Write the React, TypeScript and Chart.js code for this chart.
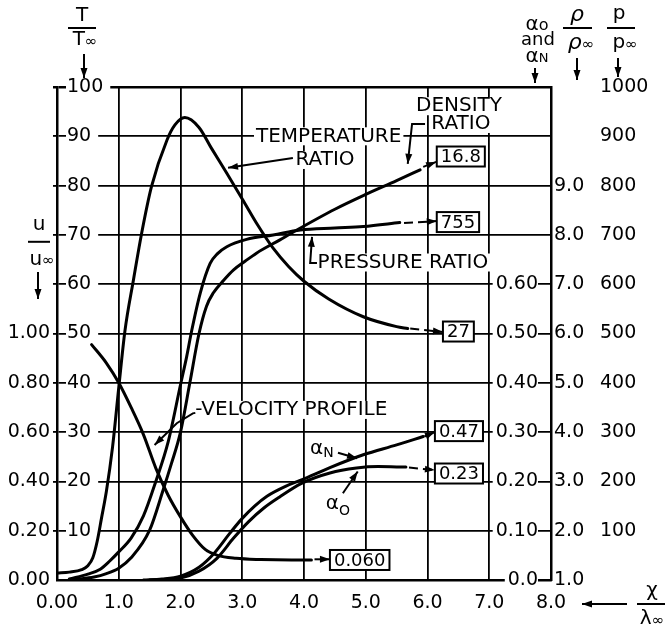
import React, { useEffect, useRef } from 'react';
import { Chart, registerables } from 'chart.js';

Chart.register(...registerables);

// ---------- data (x = χ/λ∞) ----------
const tempX = [0, 0.2, 0.4, 0.5, 0.58, 0.65, 0.72, 0.8, 0.9, 1.0, 1.1, 1.24, 1.37, 1.53, 1.78, 1.91, 2.07, 2.3, 2.5, 2.75, 3.0, 3.25, 3.5, 3.75, 4.0, 4.4, 4.96, 5.5, 5.68];
const temperatureRatio = [1.4, 1.6, 2.1, 2.9, 4.5, 7.8, 12.5, 18, 27, 39, 50.5, 61, 70.3, 79.8, 89.2, 92.3, 93.8, 91.8, 87.6, 82.5, 77.3, 72.0, 67.3, 63.6, 60.6, 57.0, 53.4, 51.4, 51.0];

const velX = [0.56, 0.8, 1.0, 1.2, 1.4, 1.6, 1.8, 2.0, 2.2, 2.4, 2.6, 2.9, 3.3, 3.8, 4.12];
const velocityProfile = [0.955, 0.88, 0.80, 0.70, 0.59, 0.454, 0.344, 0.256, 0.18, 0.124, 0.10, 0.088, 0.083, 0.081, 0.081];

const presX = [0.2, 0.5, 0.7, 0.85, 1.0, 1.2, 1.4, 1.6, 1.8, 2.0, 2.1, 2.18, 2.32, 2.48, 2.6, 2.75, 3.07, 3.5, 3.94, 4.5, 4.96, 5.55];
const pressureRatio = [2, 12, 22, 38, 57, 85, 130, 200, 280, 396, 453, 505, 582, 642, 662, 676, 691, 700, 710, 714, 717, 725];

const densX = [0.3, 0.6, 0.8, 1.0, 1.2, 1.5, 1.72, 1.85, 2.0, 2.15, 2.3, 2.42, 2.53, 2.7, 2.86, 3.05, 3.23, 3.61, 3.83, 4.5, 5.0, 5.5, 5.88];
const densityRatio = [1.01, 1.06, 1.13, 1.24, 1.45, 2.01, 2.83, 3.35, 4.0, 4.99, 6.0, 6.55, 6.82, 7.08, 7.29, 7.47, 7.63, 7.9, 8.06, 8.52, 8.82, 9.1, 9.32];

const alphaNX = [1.4, 1.7, 2.0, 2.3, 2.55, 2.8, 3.0, 3.2, 3.4, 3.7, 3.96, 4.42, 4.96, 5.5, 5.93];
const alphaN = [0, 0.002, 0.008, 0.026, 0.055, 0.095, 0.125, 0.150, 0.170, 0.190, 0.203, 0.228, 0.254, 0.274, 0.291];

const alphaOX = [1.5, 1.8, 2.0, 2.3, 2.59, 2.86, 3.1, 3.35, 3.6, 3.96, 4.42, 4.85, 5.2, 5.65];
const alphaO = [0, 0.0015, 0.004, 0.018, 0.044, 0.085, 0.118, 0.146, 0.168, 0.196, 0.217, 0.227, 0.230, 0.229];

// ---------- tick labels ----------
const xTickLabels = ['0.00', '1.0', '2.0', '3.0', '4.0', '5.0', '6.0', '7.0', '8.0'];
const uTickLabels = ['0.00', '0.20', '0.40', '0.60', '0.80', '1.00'];
const tTickLabels = [null, '10', '20', '30', '40', '50', '60', '70', '80', '90', '100'];
const alphaTickLabels = ['0.0', '0.10', '0.20', '0.30', '0.40', '0.50', '0.60'];
const rhoTickLabels = ['1.0', '2.0', '3.0', '4.0', '5.0', '6.0', '7.0', '8.0', '9.0'];
const pTickLabels = [null, '100', '200', '300', '400', '500', '600', '700', '800', '900', '1000'];

// final (downstream) values shown in boxes
const finalDensity = '16.8';
const finalPressure = '755';
const finalTemperature = '27';
const finalAlphaN = '0.47';
const finalAlphaO = '0.23';
const finalVelocity = '0.060';

const FONT = '"DejaVu Sans", sans-serif';
const INK = '#000';

type P = [number, number];

function drawArrow(c: CanvasRenderingContext2D, pts: P[], dashed = false, head = true) {
  c.save();
  c.strokeStyle = INK;
  c.lineWidth = 2;
  c.setLineDash(dashed ? [9, 5] : []);
  c.beginPath();
  pts.forEach(([x, y], i) => (i ? c.lineTo(x, y) : c.moveTo(x, y)));
  c.stroke();
  c.setLineDash([]);
  if (head) {
    const [x1, y1] = pts[pts.length - 2];
    const [x2, y2] = pts[pts.length - 1];
    const a = Math.atan2(y2 - y1, x2 - x1);
    const L = 10, W = 3.5;
    c.beginPath();
    c.moveTo(x2, y2);
    c.lineTo(x2 - L * Math.cos(a) + W * Math.sin(a), y2 - L * Math.sin(a) - W * Math.cos(a));
    c.lineTo(x2 - L * Math.cos(a) - W * Math.sin(a), y2 - L * Math.sin(a) + W * Math.cos(a));
    c.closePath();
    c.fillStyle = INK;
    c.fill();
  }
  c.restore();
}

function drawText(c: CanvasRenderingContext2D, text: string, x: number, y: number, size = 20, align: CanvasTextAlign = 'center', bg = true, style = '') {
  c.save();
  c.font = `${style}${size}px ${FONT}`;
  c.textAlign = align;
  c.textBaseline = 'middle';
  const w = c.measureText(text).width;
  if (bg) {
    const lx = align === 'center' ? x - w / 2 : align === 'left' ? x : x - w;
    c.fillStyle = '#fff';
    c.fillRect(lx - 2, y - size * 0.45, w + 4, size * 0.9);
  }
  c.fillStyle = INK;
  c.fillText(text, x, y);
  c.restore();
}

function drawSub(c: CanvasRenderingContext2D, main: string, sub: string, cx: number, cy: number, size = 20, subSize = 14, subDy = 4, mainStyle = '') {
  c.save();
  c.textBaseline = 'middle';
  c.textAlign = 'left';
  c.font = `${mainStyle}${size}px ${FONT}`;
  const w1 = c.measureText(main).width;
  c.font = `${subSize}px ${FONT}`;
  const w2 = c.measureText(sub).width;
  const x0 = cx - (w1 + w2) / 2;
  c.fillStyle = INK;
  c.font = `${mainStyle}${size}px ${FONT}`;
  c.fillText(main, x0, cy);
  c.font = `${subSize}px ${FONT}`;
  c.fillText(sub, x0 + w1, cy + subDy);
  c.restore();
}

function drawBox(c: CanvasRenderingContext2D, text: string, leftX: number, cy: number) {
  c.save();
  c.font = `18px ${FONT}`;
  const w = c.measureText(text).width + 8;
  const h = 20;
  c.fillStyle = '#fff';
  c.fillRect(leftX, cy - h / 2, w, h);
  c.lineWidth = 2;
  c.strokeStyle = INK;
  c.strokeRect(leftX, cy - h / 2, w, h);
  c.fillStyle = INK;
  c.textAlign = 'center';
  c.textBaseline = 'middle';
  c.fillText(text, leftX + w / 2, cy + 1);
  c.restore();
}

function hline(c: CanvasRenderingContext2D, x1: number, x2: number, y: number) {
  c.save();
  c.strokeStyle = INK;
  c.lineWidth = 2;
  c.beginPath();
  c.moveTo(x1, y);
  c.lineTo(x2, y);
  c.stroke();
  c.restore();
}

const annotationPlugin = {
  id: 'shockAnnotations',
  afterDraw(chart: any) {
    const c: CanvasRenderingContext2D = chart.ctx;
    const sx = chart.scales.x;
    const sy = chart.scales.yT;
    const X = (v: number) => sx.getPixelForValue(v);
    const Y = (v: number) => sy.getPixelForValue(v);
    const pt = (a: number, b: number): P => [X(a), Y(b)];
    const area = chart.chartArea;

    // Temperature ratio label
    drawText(c, 'TEMPERATURE', X(4.40), Y(90));
    drawText(c, 'RATIO', X(4.34), Y(85.2));
    drawArrow(c, [pt(3.82, 85.6), pt(2.77, 83.6)]);

    // Density ratio label
    drawText(c, 'DENSITY', X(6.51), Y(96.1));
    drawText(c, 'RATIO', X(6.54), Y(92.5));
    drawArrow(c, [pt(5.96, 92.5), pt(5.75, 92.5), pt(5.68, 84.4)]);
    drawArrow(c, [pt(5.93, 83.8), pt(6.14, 84.8)]);
    drawBox(c, finalDensity, X(6.15), Y(85.9));

    // Pressure ratio
    drawArrow(c, [pt(5.62, 72.4), pt(6.15, 72.8)], true);
    drawBox(c, finalPressure, X(6.15), Y(72.6));
    drawText(c, 'PRESSURE RATIO', X(4.22), Y(64.4), 20, 'left');
    drawArrow(c, [pt(4.21, 64.3), pt(4.10, 64.3), pt(4.13, 69.6)]);

    // Temperature final
    drawArrow(c, [pt(5.72, 51.0), pt(6.25, 50.3)], true);
    drawBox(c, finalTemperature, X(6.25), Y(50.4));

    // Velocity profile
    drawText(c, '-VELOCITY PROFILE', X(2.24), Y(34.5), 20, 'left');
    drawArrow(c, [pt(2.24, 33.9), pt(2.2, 33.8), pt(1.94, 31.8), pt(1.58, 27.4)]);
    drawArrow(c, [pt(4.17, 4.2), pt(4.42, 4.2)]);
    drawBox(c, finalVelocity, X(4.42), Y(4.06));

    // alpha labels
    drawSub(c, 'α', 'N', X(4.29), Y(26.7), 20, 14, 5);
    drawArrow(c, [pt(4.55, 25.8), pt(4.86, 24.7)]);
    drawSub(c, 'α', 'O', X(4.55), Y(15.5), 20, 14, 8);
    drawArrow(c, [pt(4.63, 17.6), pt(4.87, 22.0)]);
    drawArrow(c, [pt(5.95, 29.1), pt(6.12, 30.0)]);
    drawBox(c, finalAlphaN, X(6.12), Y(30.2));
    drawArrow(c, [pt(5.7, 22.8), pt(6.12, 22.3)], true);
    drawBox(c, finalAlphaO, X(6.12), Y(21.6));

    // ---------- axis titles ----------
    const L = area.left, R = area.right, T = area.top, B = area.bottom;
    c.save();
    c.fillStyle = INK;
    c.textAlign = 'center';
    c.textBaseline = 'middle';
    c.font = `20px ${FONT}`;
    // T / T∞ (left inner axis)
    c.fillText('T', L + 25, 16);
    hline(c, L + 11, L + 39, 28);
    drawSub(c, 'T', '∞', L + 28, 40, 20, 15, 2);
    drawArrow(c, [[L + 27, 54], [L + 27, T - 9]]);
    // u / u∞ (left outer axis)
    c.font = `20px ${FONT}`;
    c.fillText('u', 39, Y(72));
    hline(c, 28, 50, Y(68.6));
    drawSub(c, 'u', '∞', 42, Y(65), 20, 15, 2);
    drawArrow(c, [[38, Y(62.5)], [38, Y(57)]]);
    // αo and αN
    drawSub(c, 'α', 'o', R - 14, 25, 20, 16, 1);
    c.font = `18px ${FONT}`;
    c.fillText('and', R - 13, 40);
    drawSub(c, 'α', 'N', R - 14, 57, 20, 13, 2);
    drawArrow(c, [[R - 16, 68], [R - 16, T - 4]]);
    // ρ / ρ∞
    c.font = `italic 22px ${FONT}`;
    c.fillText('ρ', R + 26, 15);
    hline(c, R + 12, R + 41, 28);
    drawSub(c, 'ρ', '∞', R + 30, 43, 22, 15, 2, 'italic ');
    drawArrow(c, [[R + 26, 58], [R + 26, T - 7]]);
    // p / p∞
    c.font = `20px ${FONT}`;
    c.fillText('p', R + 68, 14);
    hline(c, R + 56, R + 84, 28);
    drawSub(c, 'p', '∞', R + 74, 43, 20, 15, 2);
    drawArrow(c, [[R + 67, 58], [R + 67, T - 10]]);
    // χ / λ∞
    c.font = `20px ${FONT}`;
    c.fillText('χ', 652, B + 11);
    hline(c, 637, 665, B + 24);
    drawSub(c, 'λ', '∞', 652, B + 39, 20, 15, 2);
    drawArrow(c, [[627, B + 24], [582, B + 24]]);
    c.restore();
  },
};

export default function App() {
  const ref = useRef<HTMLCanvasElement>(null);
  useEffect(() => {
    document.body.style.margin = '0';
    const canvas = ref.current!;
    const pts = (xs: number[], ys: number[]) => xs.map((x, i) => ({ x, y: ys[i] }));
    const line = (label: string, xs: number[], ys: number[], yAxisID: string) => ({
      label,
      data: pts(xs, ys),
      yAxisID,
      borderColor: INK,
      borderWidth: 3,
      pointRadius: 0,
      fill: false,
      cubicInterpolationMode: 'monotone' as const,
      borderCapStyle: 'round' as const,
    });
    const tickFont = { family: FONT, size: 19 };
    const chart = new Chart(canvas, {
      type: 'line',
      data: {
        datasets: [
          line('Temperature ratio', tempX, temperatureRatio, 'yT'),
          line('Velocity profile', velX, velocityProfile, 'yU'),
          line('Pressure ratio', presX, pressureRatio, 'yP'),
          line('Density ratio', densX, densityRatio, 'yR'),
          line('αN', alphaNX, alphaN, 'yA'),
          line('αo', alphaOX, alphaO, 'yA'),
        ],
      },
      options: {
        responsive: false,
        animation: false,
        devicePixelRatio: 1,
        layout: { padding: { top: 87, left: 0, right: 0, bottom: 0 } },
        plugins: { legend: { display: false }, tooltip: { enabled: false } },
        scales: {
          x: {
            type: 'linear',
            min: 0,
            max: 8,
            position: 'bottom',
            afterFit: (s: any) => { s.height = 51; },
            ticks: {
              stepSize: 1,
              autoSkip: false,
              maxRotation: 0,
              padding: 12,
              font: tickFont,
              color: INK,
              callback: (_v: any, i: number) => xTickLabels[i],
            },
            grid: { color: INK, lineWidth: 1.8, drawTicks: false },
            border: { display: true, color: INK, width: 2.5 },
          },
          yU: {
            type: 'linear',
            position: 'left',
            weight: 1,
            min: 0,
            max: 2,
            afterFit: (s: any) => { s.width = 57; },
            ticks: {
              stepSize: 0.2,
              padding: 7,
              font: tickFont,
              color: INK,
              callback: (_v: any, i: number) => (i < uTickLabels.length ? uTickLabels[i] : null),
            },
            grid: { display: false, drawTicks: false },
            border: { display: false },
          },
          yT: {
            type: 'linear',
            position: 'left',
            weight: 0,
            min: 0,
            max: 100,
            afterFit: (s: any) => { s.width = 0; },
            ticks: {
              stepSize: 10,
              mirror: true,
              padding: 10,
              font: tickFont,
              color: INK,
              showLabelBackdrop: true,
              backdropColor: '#fff',
              backdropPadding: { left: 1, right: 7, top: 0, bottom: 0 },
              callback: (_v: any, i: number) => tTickLabels[i],
            },
            grid: {
              color: INK,
              lineWidth: (ctx: any) => (ctx.tick && ctx.tick.value === 100 ? 2.5 : 1.8),
              tickLength: 4,
            },
            border: { display: true, color: INK, width: 2.5 },
          },
          yA: {
            type: 'linear',
            position: 'right',
            weight: 0,
            min: 0,
            max: 1,
            afterFit: (s: any) => { s.width = 0; },
            ticks: {
              stepSize: 0.1,
              mirror: true,
              padding: -13,
              z: 1,
              font: tickFont,
              color: INK,
              showLabelBackdrop: true,
              backdropColor: '#fff',
              backdropPadding: { left: 3, right: 0, top: 0, bottom: 0 },
              callback: (_v: any, i: number) => (i < alphaTickLabels.length ? alphaTickLabels[i] : null),
            },
            grid: { display: false, drawTicks: false },
            border: { display: true, color: INK, width: 2.5 },
          },
          yR: {
            type: 'linear',
            position: 'right',
            weight: 1,
            min: 1,
            max: 11,
            afterFit: (s: any) => { s.width = 45; },
            ticks: {
              stepSize: 1,
              padding: 3,
              font: tickFont,
              color: INK,
              callback: (_v: any, i: number) => (i < rhoTickLabels.length ? rhoTickLabels[i] : null),
            },
            grid: { display: false, drawTicks: false },
            border: { display: false },
          },
          yP: {
            type: 'linear',
            position: 'right',
            weight: 2,
            min: 0,
            max: 1000,
            afterFit: (s: any) => { s.width = 71; },
            ticks: {
              stepSize: 100,
              padding: 4,
              font: tickFont,
              color: INK,
              callback: (_v: any, i: number) => pTickLabels[i],
            },
            grid: { display: false, drawTicks: false },
            border: { display: false },
          },
        },
      } as any,
      plugins: [annotationPlugin],
    });
    return () => chart.destroy();
  }, []);
  return (
    <div style={{ width: 667, height: 631, overflow: 'hidden' }}>
      <canvas ref={ref} width={667} height={631} style={{ display: 'block' }} />
    </div>
  );
}
